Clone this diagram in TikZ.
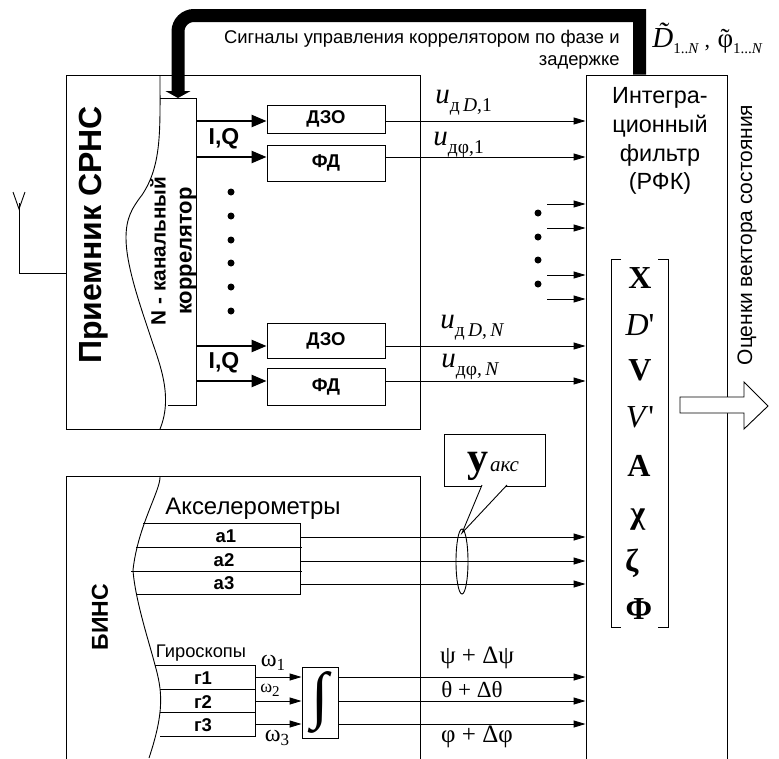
\documentclass[tikz,border=0pt]{standalone}
\usepackage{fontspec}
\setmainfont{Liberation Serif}
\setsansfont{Liberation Sans}
\usetikzlibrary{arrows.meta}
\newcommand{\fsz}[1]{\fontsize{#1}{#1}\selectfont}
\newcommand{\ulab}[1]{{\fsz{29}\itshape u}\raisebox{-8pt}{\fsz{19.5}#1}}
\tikzset{
  every picture/.style={line join=miter, >=Stealth},
  thinarr/.style={-{Stealth[length=12pt,width=7pt,inset=0pt]},line width=0.9pt},
  thickarr/.style={-{Stealth[length=15pt,width=12pt,inset=0pt]},line width=2.4pt},
  blockbox/.style={draw,line width=0.9pt,inner sep=0pt},
  boldlab/.style={inner sep=0pt,font=\sffamily\bfseries\fsz{18.5}},
  iqlab/.style={inner sep=0pt,font=\sffamily\bfseries\fsz{23}},
  vecitem/.style={inner sep=0pt,font=\fsz{32}},
  mathlab/.style={inner sep=0pt,font=\fsz{25}},
}
\begin{document}
\begin{tikzpicture}[x=1pt,y=-1pt,line width=0.9pt]
\useasboundingbox (0,0) rectangle (779,758);
\clip (0,0) rectangle (779,758);
% receiver
\node[blockbox,minimum width=354pt,minimum height=354pt] (recv) at (243,252) {};
\node[inner sep=0pt,rotate=90,font=\sffamily\bfseries\fsz{32}] (recvname) at (94,235) {Приемник СРНС};
\draw (160,75) .. controls (160,130) and (162,165) .. (142,195) .. controls (132,208) and (126,218) .. (126,238) .. controls (126,265) and (140,305) .. (150,335) .. controls (158,360) and (174,395) .. (160,429);
\draw (160,98) -- (196,98) -- (196,405) -- (168,405);
\coordinate (corrtop) at (178,98);
\node[inner sep=0pt,rotate=90,font=\sffamily\bfseries\fsz{20.7}] (corr1) at (158,251) {N - канальный};
\node[inner sep=0pt,rotate=90,font=\sffamily\bfseries\fsz{22}] (corr2) at (188,251) {коррелятор};
% antenna
\coordinate (ant) at (19,273);
\draw (recv.west |- ant) -- (ant) -- (19,203);
\draw (13,192) -- (19,209) -- (25,192);
% discriminators
\node[blockbox,minimum width=118pt,minimum height=28pt] (dzoA) at (326,119) {};
\node[blockbox,minimum width=118pt,minimum height=36pt] (fdA) at (326,163) {};
\node[blockbox,minimum width=118pt,minimum height=35pt] (dzoB) at (326,341) {};
\node[blockbox,minimum width=118pt,minimum height=37pt] (fdB) at (326,387) {};
\node[boldlab] at (dzoA) {ДЗО};
\node[boldlab] at (fdA) {ФД};
\node[boldlab] at (dzoB) {ДЗО};
\node[boldlab] at (fdB) {ФД};
\coordinate (chA) at (196,121);
\coordinate (chB) at (196,157);
\coordinate (chC) at (196,346);
\coordinate (chD) at (196,381);
\draw[thickarr] (chA) -- (chA -| dzoA.west);
\draw[thickarr] (chB) -- (chB -| fdA.west);
\draw[thickarr] (chC) -- (chC -| dzoB.west);
\draw[thickarr] (chD) -- (chD -| fdB.west);
\node[iqlab] at (224,139) {I,Q};
\node[iqlab] at (224,363) {I,Q};
\fill (231,192) circle[radius=3.5pt];
\fill (231,216) circle[radius=3.5pt];
\fill (231,240) circle[radius=3.5pt];
\fill (231,263) circle[radius=3.5pt];
\fill (231,287) circle[radius=3.5pt];
\fill (231,311) circle[radius=3.5pt];
% filter
\node[blockbox,minimum width=141pt,minimum height=720pt] (filter) at (656.5,435) {};
\node[inner sep=0pt,font=\sffamily\fsz{23.4},align=center] (filtername) at (660,141) {Интегра-\\[5.5pt]ционный\\[5.5pt]фильтр\\[5.5pt](РФК)};
\draw[thinarr] (chA -| dzoA.east) -- (chA -| filter.west);
\draw[thinarr] (chB -| fdA.east) -- (chB -| filter.west);
\draw[thinarr] (chC -| dzoB.east) -- (chC -| filter.west);
\draw[thinarr] (chD -| fdB.east) -- (chD -| filter.west);
\node[inner sep=0pt,anchor=base west] at (435,103) {\ulab{д\,\textit{D},1}};
\node[inner sep=0pt,anchor=base west] at (433,145) {\ulab{дφ,1}};
\node[inner sep=0pt,anchor=base west] at (440,328) {\ulab{д\,\textit{D},\,\textit{N}}};
\node[inner sep=0pt,anchor=base west] at (441,367) {\ulab{дφ,\,\textit{N}}};
\fill (538,213) circle[radius=3.5pt];
\fill (538,237) circle[radius=3.5pt];
\fill (538,260) circle[radius=3.5pt];
\fill (538,284) circle[radius=3.5pt];
\coordinate (mrgA) at (547,204);
\coordinate (mrgB) at (547,228);
\coordinate (mrgC) at (547,275);
\coordinate (mrgD) at (547,299);
\draw[thinarr] (mrgA) -- (mrgA -| filter.west);
\draw[thinarr] (mrgB) -- (mrgB -| filter.west);
\draw[thinarr] (mrgC) -- (mrgC -| filter.west);
\draw[thinarr] (mrgD) -- (mrgD -| filter.west);
% state vector
\draw (621,259) -- (611,259) -- (611,627) -- (621,627);
\draw (658,259) -- (668,259) -- (668,627) -- (658,627);
\node[vecitem] at (640,278) {\textbf{X}};
\node[vecitem] at (640,325) {\textit{D}\textquotesingle};
\node[vecitem] at (640,370) {\textbf{V}};
\node[vecitem] at (640,417) {\textit{V}\textquotesingle};
\node[vecitem] at (639,466) {\textbf{A}};
\node[vecitem] at (638,520) {\textbf{χ}};
\node[vecitem] at (632,563) {\textbf{ζ}};
\node[vecitem] at (639,609) {\textbf{Φ}};
\node[inner sep=0pt,rotate=90,font=\sffamily\fsz{21}] (outname) at (747,235) {Оценки вектора состояния};
\draw[fill=white] (680,397) -- (744,397) -- (744,382) -- (768,406) -- (744,429) -- (744,413) -- (680,413) -- cycle;
% feedback
\draw[line width=13pt,-{Triangle[length=7pt,width=25pt]}] (filter.north -| 639.5,0) -- (639.5,15.5) [rounded corners=16pt] -- (178,15.5) [sharp corners] -- (corrtop);
\node[inner sep=0pt,font=\sffamily\fsz{18.4},align=right,anchor=north east] (ctrl) at (620,30) {Сигналы управления коррелятором по фазе и\\[3pt]задержке};
\node[inner sep=0pt,anchor=base west] (est) at (652,47) {{\fsz{29}\itshape D̃}\raisebox{-6pt}{\fsz{15}1..\textit{N}}{\fsz{22} ,\hspace{2pt} }{\fsz{27}\rlap{\hspace{3pt}˜}φ}\raisebox{-6pt}{\fsz{15}1...\textit{N}}};
% INS
\node[blockbox,minimum width=354pt,minimum height=400pt] (bins) at (243,676) {};
\node[inner sep=0pt,rotate=90,font=\sffamily\bfseries\fsz{23}] (binsname) at (100,617) {БИНС};
\draw (160,476) .. controls (161,490) and (138,525) .. (133,570) .. controls (135,600) and (150,645) .. (155,665) .. controls (162,690) and (165,710) .. (149,758);
% accelerometers
\node[inner sep=0pt,font=\sffamily\fsz{23.9}] (accname) at (253,509) {Акселерометры};
\draw (143,523) -- (300,523) -- (300,594) -- (136,594);
\draw (136,547) -- (302,547);
\draw (131,571) -- (302,571);
\node[boldlab] (accA) at (226,536) {а1};
\node[boldlab] (accB) at (224,560) {а2};
\node[boldlab] (accC) at (224,583) {а3};
\coordinate (accoutA) at (300,537);
\coordinate (accoutB) at (300,561);
\coordinate (accoutC) at (300,584);
\draw[thinarr] (accoutA) -- (accoutA -| filter.west);
\draw[thinarr] (accoutB) -- (accoutB -| filter.west);
\draw[thinarr] (accoutC) -- (accoutC -| filter.west);
\draw (462,561.5) ellipse[x radius=6,y radius=32.5];
% callout
\node[blockbox,minimum width=101pt,minimum height=52pt] (yakc) at (494.5,460) {};
\node[inner sep=0pt,anchor=base west] at (467,471) {{\fsz{42}\bfseries y}\,{\fsz{21}\itshape акс}};
\coordinate (ytip) at (462,533);
\draw[fill=white] (482,485) -- (ytip) -- (507,485);
% gyroscopes
\node[inner sep=0pt,font=\sffamily\fsz{18.3}] (gyrname) at (201,653) {Гироскопы};
\draw (155,665) -- (255,665) -- (255,736) -- (160,736);
\draw (160,689) -- (255,689);
\draw (160,712) -- (255,712);
\node[boldlab] (gyrA) at (203,678) {г1};
\node[boldlab] (gyrB) at (203,702) {г2};
\node[boldlab] (gyrC) at (203,725) {г3};
\node[blockbox,minimum width=36pt,minimum height=71pt] (integ) at (320,702.5) {};
\node[inner sep=0pt,font=\bfseries\fsz{63}] at (integ) {∫};
\coordinate (gyroutA) at (255,677);
\coordinate (gyroutB) at (255,701);
\coordinate (gyroutC) at (255,724);
\draw[thinarr] (gyroutA) -- (gyroutA -| integ.west);
\draw[thinarr] (gyroutB) -- (gyroutB -| integ.west);
\draw[thinarr] (gyroutC) -- (gyroutC -| integ.west);
\draw[thinarr] (gyroutA -| integ.east) -- (gyroutA -| filter.west);
\draw[thinarr] (gyroutB -| integ.east) -- (gyroutB -| filter.west);
\draw[thinarr] (gyroutC -| integ.east) -- (gyroutC -| filter.west);
\node[mathlab,font=\fsz{24}] at (273,663) {ω\raisebox{-4pt}{\fsz{17}1}};
\node[mathlab,font=\fsz{18}] at (270,690) {ω\raisebox{-4pt}{\fsz{15}2}};
\node[mathlab,font=\fsz{24}] at (277,738) {ω\raisebox{-4pt}{\fsz{17}3}};
\node[mathlab] at (477,658) {ψ + Δψ};
\node[mathlab,font=\fsz{23}] at (472,690) {θ + Δθ};
\node[mathlab] at (477,737) {φ + Δφ};
\end{tikzpicture}
\end{document}
